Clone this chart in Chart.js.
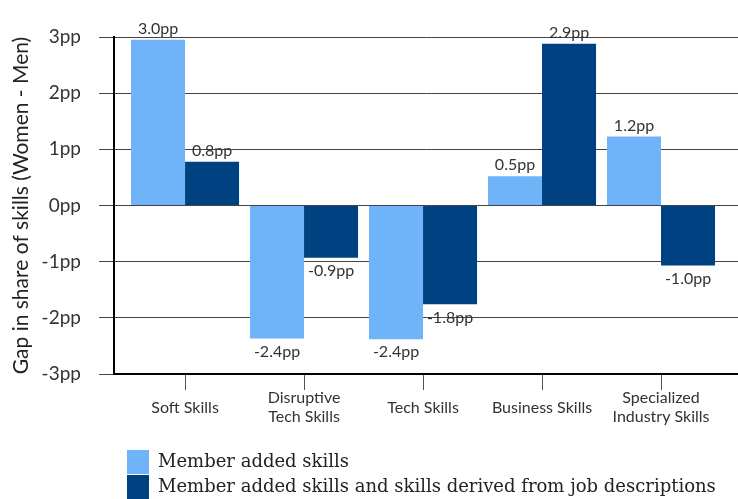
<!DOCTYPE html>
<html>
<head>
<meta charset="utf-8">
<script src="https://cdn.jsdelivr.net/npm/chart.js@4/dist/chart.umd.min.js"></script>
<style>
  html, body { margin: 0; padding: 0; background: #fff; }
  #wrap { width: 738px; height: 499px; }
</style>
</head>
<body>
<div id="wrap"><canvas id="myChart"></canvas></div>
<script>
var categories = ['Soft Skills', ['Disruptive', 'Tech Skills'], 'Tech Skills', 'Business Skills', ['Specialized', 'Industry Skills']];
var memberAdded = [2.95, -2.37, -2.38, 0.52, 1.23];
var memberAddedLabels = ['3.0pp', '-2.4pp', '-2.4pp', '0.5pp', '1.2pp'];
var withJobDesc = [0.78, -0.93, -1.76, 2.88, -1.07];
var withJobDescLabels = ['0.8pp', '-0.9pp', '-1.8pp', '2.9pp', '-1.0pp'];
var yTicks = [-3, -2, -1, 0, 1, 2, 3];

var sans = 'Lato, "Open Sans", sans-serif';

var barLabels = {
    id: 'barLabels',
    afterDatasetsDraw: function(chart) {
        var ctx = chart.ctx;
        ctx.save();
        ctx.font = '16px ' + sans;
        ctx.fillStyle = '#333';
        ctx.textAlign = 'center';
        chart.data.datasets.forEach(function(ds, di) {
            chart.getDatasetMeta(di).data.forEach(function(bar, i) {
                var v = ds.data[i].y;
                if (v >= 0) {
                    ctx.textBaseline = 'bottom';
                    ctx.fillText(ds.valueLabels[i], bar.x, bar.y - 3);
                } else {
                    ctx.textBaseline = 'top';
                    ctx.fillText(ds.valueLabels[i], bar.x, bar.y + 5);
                }
            });
        });
        ctx.restore();
    }
};

// nudge legend to where the original has it
var legendShift = {
    id: 'legendShift',
    afterLayout: function(chart) {
        var lg = chart.legend;
        lg.left += 12; lg.right += 12;
        lg.top += 10; lg.bottom += 10;
    }
};

var ctx = document.getElementById('myChart').getContext('2d');
var myChart = new Chart(ctx, {
    type: 'bar',
    data: {
        datasets: [{
            label: 'Member added skills',
            data: memberAdded.map(function(v, i) { return {x: i, y: v}; }),
            valueLabels: memberAddedLabels,
            backgroundColor: '#6FB4F9'
        }, {
            label: 'Member added skills and skills derived from job descriptions',
            data: withJobDesc.map(function(v, i) { return {x: i, y: v}; }),
            valueLabels: withJobDescLabels,
            backgroundColor: '#004182'
        }]
    },
    plugins: [barLabels, legendShift],
    options: {
        responsive: true,
        maintainAspectRatio: false,
        animation: false,
        categoryPercentage: 0.908,
        barPercentage: 1,
        layout: { padding: { top: 37, left: 0, right: 0, bottom: 0 } },
        plugins: {
            tooltip: { enabled: false },
            legend: {
                position: 'bottom',
                align: 'start',
                fullSize: false,
                labels: {
                    boxWidth: 22,
                    boxHeight: 24,
                    padding: 1,
                    color: '#222',
                    font: { family: '"DejaVu Serif", serif', size: 18 }
                }
            }
        },
        scales: {
            x: {
                type: 'linear',
                offset: false,
                min: -0.597,
                max: 4.647,
                afterBuildTicks: function(s) {
                    s.ticks = categories.map(function(c, i) { return {value: i}; });
                },
                afterFit: function(s) { s.height = 65; },
                grid: {
                    offset: false,
                    drawOnChartArea: false,
                    tickLength: 16,
                    color: '#555'
                },
                border: { display: true, color: '#000', width: 2 },
                ticks: {
                    autoSkip: false,
                    maxRotation: 0,
                    crossAlign: 'center',
                    padding: 8,
                    color: '#333',
                    font: { family: sans, size: 16, lineHeight: 1.2 },
                    callback: function(v) { return categories[v]; }
                }
            },
            y: {
                min: -3,
                max: 3,
                afterBuildTicks: function(s) {
                    s.ticks = yTicks.map(function(v) { return {value: v}; });
                },
                afterFit: function(s) { s.width = 114; },
                grid: {
                    color: '#444',
                    tickLength: 15
                },
                border: { display: true, color: '#000', width: 2 },
                ticks: {
                    padding: 18,
                    color: '#333',
                    font: { family: sans, size: 19 },
                    callback: function(v) { return v + 'pp'; }
                },
                title: {
                    display: true,
                    text: 'Gap in share of skills (Women - Men)',
                    color: '#222',
                    padding: { top: 9, bottom: 0 },
                    font: { family: sans, size: 21 }
                }
            }
        }
    }
});
</script>
</body>
</html>
